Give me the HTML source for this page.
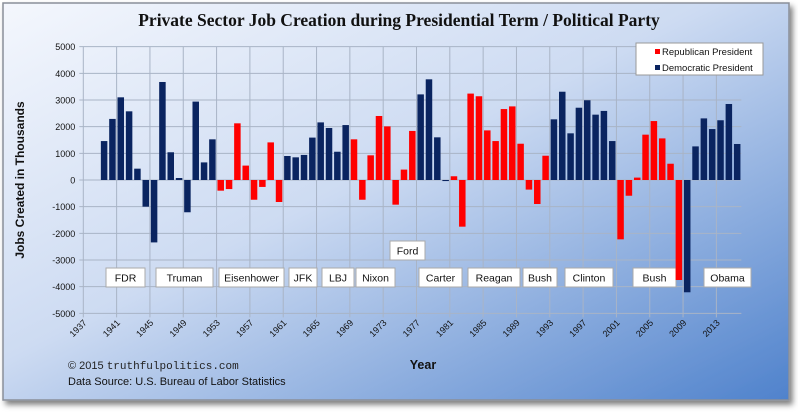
<!DOCTYPE html>
<html><head><meta charset="utf-8"><style>
body{margin:0;width:798px;height:414px;background:#fff;overflow:hidden;font-family:"Liberation Sans",sans-serif}
</style></head><body>
<svg width="798" height="414" xmlns="http://www.w3.org/2000/svg">
<defs>
<linearGradient id="bg" x1="0" y1="0" x2="1" y2="1">
<stop offset="0" stop-color="#f4f7fd"/><stop offset="0.45" stop-color="#cddbf2"/><stop offset="1" stop-color="#4f82cc"/>
</linearGradient>
<filter id="sh" x="-5%" y="-5%" width="110%" height="115%"><feDropShadow dx="3" dy="4" stdDeviation="3" flood-color="#000" flood-opacity="0.5"/></filter>
</defs>
<rect x="3" y="3" width="786" height="397" fill="url(#bg)" stroke="#8a8f99" stroke-width="1.5" filter="url(#sh)"/>
<text x="399" y="26" text-anchor="middle" font-family="Liberation Serif,serif" font-weight="bold" font-size="17.5" fill="#111">Private Sector Job Creation during Presidential Term / Political Party</text>
<g id="grid"></g>
<g id="labels"></g>
<g id="bars"></g>
<text transform="translate(24,180) rotate(-90)" text-anchor="middle" font-size="12" font-weight="bold" fill="#111">Jobs Created in Thousands</text>
<text x="423" y="369" text-anchor="middle" font-size="12.5" font-weight="bold" fill="#111">Year</text>
<text x="68" y="369" font-size="11" fill="#222">© 2015 <tspan font-family="Liberation Mono,monospace">truthfulpolitics.com</tspan></text>
<text x="68" y="385" font-size="11" fill="#111">Data Source:  U.S. Bureau of Labor Statistics</text>
<g>
<rect x="636" y="43" width="127" height="32" fill="#fff" stroke="#999"/>
<rect x="655" y="49" width="5" height="5" fill="#ff0000"/>
<text x="662" y="55" font-size="9.5" fill="#111">Republican President</text>
<rect x="655" y="65" width="5" height="5" fill="#0a2460"/>
<text x="662" y="71" font-size="9.5" fill="#111">Democratic President</text>
</g>
</svg>
<script>
const years=[1939,1940,1941,1942,1943,1944,1945,1946,1947,1948,1949,1950,1951,1952,1953,1954,1955,1956,1957,1958,1959,1960,1961,1962,1963,1964,1965,1966,1967,1968,1969,1970,1971,1972,1973,1974,1975,1976,1977,1978,1979,1980,1981,1982,1983,1984,1985,1986,1987,1988,1989,1990,1991,1992,1993,1994,1995,1996,1997,1998,1999,2000,2001,2002,2003,2004,2005,2006,2007,2008,2009,2010,2011,2012,2013,2014,2015];
const jobs=[1460,2290,3100,2575,425,-1000,-2340,3675,1040,75,-1210,2940,660,1525,-400,-340,2125,540,-740,-260,1410,-825,900,850,940,1590,2160,1950,1060,2060,1525,-740,925,2400,2010,-925,390,1840,3210,3775,1600,-40,140,-1750,3240,3140,1860,1460,2660,2760,1360,-360,-900,910,2275,3310,1750,2710,2990,2450,2590,1460,-2225,-590,90,1700,2210,1560,610,-3750,-4210,1260,2310,1910,2240,2850,1350];
const repYears=[[1953,1960],[1969,1976],[1981,1992],[2001,2008]];
const yTicks=[5000,4000,3000,2000,1000,0,-1000,-2000,-3000,-4000,-5000];
const xTicks=[1937,1941,1945,1949,1953,1957,1961,1965,1969,1973,1977,1981,1985,1989,1993,1997,2001,2005,2009,2013];
const presidents=["FDR","Truman","Eisenhower","JFK","LBJ","Nixon","Ford","Carter","Reagan","Bush","Clinton","Bush","Obama"];
const NS="http://www.w3.org/2000/svg";
const X0=83.3,DX=8.33,Y0=180,YS=26.67/1000;
const boxL=[106,156,219,289,322,356,390,419,468,523,565,633,704];
const boxR=[145,213,284,317,354,395,425,462,520,557,613,676,751];
const boxY=[268,268,268,268,268,268,241,268,268,268,268,268,268];
function xs(y){return X0+(y-1937)*DX;}
function ys(v){return Y0-v*YS;}
function mk(t,a,p){const e=document.createElementNS(NS,t);for(const k in a)e.setAttribute(k,a[k]);p.appendChild(e);return e;}
const g=document.getElementById('grid');
yTicks.forEach(v=>{
 const l=mk('line',{x1:X0-4,x2:xs(2016),y1:ys(v),y2:ys(v),stroke:'#a9b4c6','stroke-width':1},g);
 
 
 const t=mk('text',{x:X0-8,y:ys(v)+3.5,'text-anchor':'end','font-size':9,fill:'#111'},g);
 t.textContent=v;
 
 
});
xTicks.forEach(yr=>{
 const l=mk('line',{x1:xs(yr),x2:xs(yr),y1:ys(5000),y2:ys(-5000)+4,stroke:'#a9b4c6','stroke-width':1},g);
 
 
 const t=mk('text',{transform:`translate(${xs(yr)+4},${ys(-5000)+10}) rotate(-45)`,'text-anchor':'end','font-size':9,fill:'#111'},g);
 t.textContent=yr;
 
 
});
const lb=document.getElementById('labels');
presidents.forEach((p,i)=>{
 const x1=boxL[i],x2=boxR[i],y=boxY[i];
 const gg=mk('g',{},lb);
 
 
 mk('rect',{x:x1,y:y,width:x2-x1,height:19,fill:'#fff',stroke:'#aaa','stroke-width':1},gg);
 const t=mk('text',{x:(x1+x2)/2,y:y+13.5,'text-anchor':'middle','font-size':10.5,fill:'#111'},gg);
 t.textContent=p;
});
const b=document.getElementById('bars');
years.forEach((yr,i)=>{
 const v=jobs[i];
 const rep=repYears.some(r=>yr>=r[0]&&yr<=r[1]);
 const r=mk('rect',{x:xs(yr)+0.9,width:6.5,y:Math.min(ys(v),Y0),height:Math.max(Math.abs(ys(v)-Y0),0.8),fill:rep?'#ff0000':'#0a2460'},b);
 
 
});
</script>
</body></html>
